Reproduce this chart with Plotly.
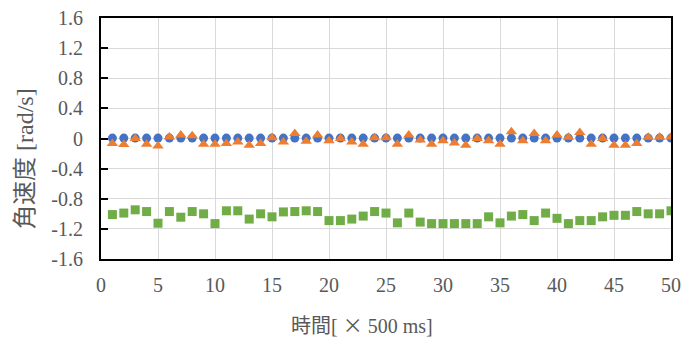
import plotly.graph_objects as go

t = list(range(1, 51))

blue_vals = [0.005] * 50

orange_vals = [-0.067, -0.08, 0.0, -0.075, -0.1, 0.02, 0.045, 0.035, -0.075, -0.075,
               -0.067, -0.045, -0.09, -0.067, 0.01, -0.045, 0.067, -0.035, 0.045, -0.03,
               0.0, -0.045, -0.075, 0.01, 0.01, -0.075, 0.045, -0.02, -0.075, -0.03,
               -0.06, -0.09, 0.0, -0.03, -0.075, 0.09, -0.03, 0.067, -0.03, 0.045,
               0.015, 0.08, -0.075, 0.0, -0.09, -0.09, -0.067, 0.015, 0.015, 0.02]

green_vals = [-1.01, -0.99, -0.947, -0.97, -1.125, -0.97, -1.045, -0.97, -1.0, -1.13,
              -0.96, -0.96, -1.07, -1.0, -1.04, -0.975, -0.97, -0.96, -0.97, -1.09,
              -1.09, -1.07, -1.03, -0.97, -0.99, -1.12, -0.99, -1.11, -1.13, -1.13,
              -1.13, -1.13, -1.13, -1.04, -1.12, -1.03, -1.01, -1.09, -0.99, -1.06,
              -1.13, -1.09, -1.09, -1.04, -1.02, -1.02, -0.97, -1.0, -1.0, -0.96]

x_ticks = [0, 5, 10, 15, 20, 25, 30, 35, 40, 45, 50]
y_ticks = [-1.6, -1.2, -0.8, -0.4, 0, 0.4, 0.8, 1.2, 1.6]
y_tick_text = ["-1.6", "-1.2", "-0.8", "-0.4", "0", "0.4", "0.8", "1.2", "1.6"]

fig = go.Figure()
fig.add_trace(go.Scatter(x=t, y=blue_vals, mode="markers",
                         marker=dict(symbol="circle", size=9, color="#4472C4")))
fig.add_trace(go.Scatter(x=t, y=orange_vals, mode="markers",
                         marker=dict(symbol="triangle-up", size=10, color="#ED7D31")))
fig.add_trace(go.Scatter(x=t, y=green_vals, mode="markers",
                         marker=dict(symbol="square", size=9, color="#70AD47")))

tickfont = dict(family="Liberation Serif", size=20, color="#595959")
xtitlefont = dict(family="Liberation Serif, Noto Sans CJK JP", size=20, color="#595959")
ytitlefont = dict(family="Liberation Serif, Noto Sans CJK JP", size=24, color="#595959")

fig.update_layout(
    width=685, height=345,
    margin=dict(l=101, r=14, t=18, b=86, autoexpand=False),
    plot_bgcolor="white", paper_bgcolor="white",
    showlegend=False,
    xaxis=dict(range=[0, 50], tickvals=x_ticks, showgrid=True, gridcolor="#D9D9D9",
               gridwidth=1, zeroline=False, showline=True, linecolor="black",
               linewidth=2, mirror=True, ticks="", tickfont=tickfont,
               ticklabelstandoff=7, automargin=False),
    yaxis=dict(range=[-1.6, 1.6], tickvals=y_ticks, ticktext=y_tick_text,
               showgrid=True, gridcolor="#D9D9D9", gridwidth=1, zeroline=False,
               showline=True, linecolor="black", linewidth=2, mirror=True,
               ticks="inside", ticklen=7, tickwidth=2, tickcolor="black",
               tickfont=tickfont, ticklabelstandoff=12, automargin=False),
    annotations=[
        dict(text="時間[ <span style='font-family:Noto Sans CJK JP'>×</span> 500 ms]",
             xref="paper", yref="paper", x=0.4585, y=-0.273,
             xanchor="center", yanchor="middle", showarrow=False, font=xtitlefont),
        dict(text="角速度 [rad/s]", xref="paper", yref="paper", x=-0.133, y=0.416,
             xanchor="center", yanchor="middle", showarrow=False, textangle=-90,
             font=ytitlefont),
    ],
)

fig.write_html(
    "out.html",
    config={"displayModeBar": False},
    post_script="document.body.style.margin='0';document.body.style.overflow='hidden';",
)
